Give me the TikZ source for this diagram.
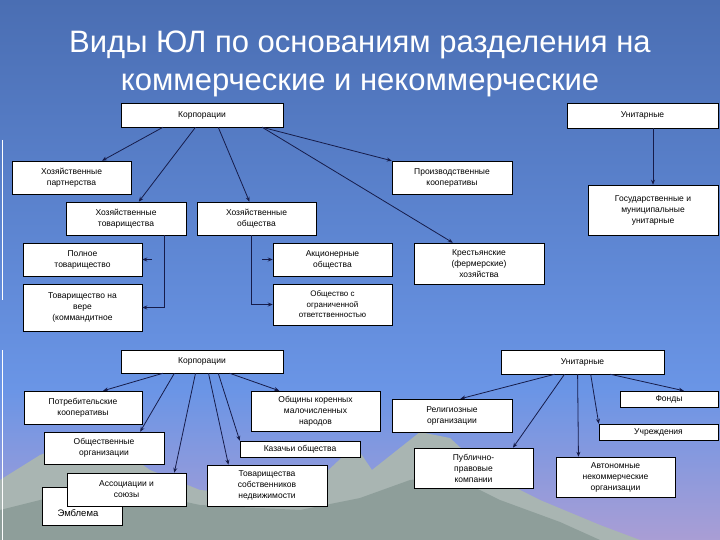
\documentclass[tikz,border=0pt]{standalone}
\usepackage{fontspec}
\setmainfont{Liberation Sans}
\usetikzlibrary{calc,arrows.meta}
\definecolor{bgA}{HTML}{34538F}
\definecolor{bgB}{HTML}{6A95E6}
\definecolor{bgC}{HTML}{C9A2CC}
\definecolor{bgD}{HTML}{EBC7B4}
\definecolor{bgE}{HTML}{E8C6B0}
\definecolor{mnt}{HTML}{8E9E9A}
\definecolor{mnt2}{HTML}{A9B5B2}
\definecolor{lnk}{HTML}{161C4A}
\pgfdeclareverticalshading{bg}{100bp}{color(0bp)=(bgE); color(8bp)=(bgD); color(18bp)=(bgC); color(39bp)=(bgB); color(100bp)=(bgA)}
\begin{document}
\begin{tikzpicture}[x=1pt,y=-1pt,
  box/.style={draw=black,line width=0.5pt,fill=white,inner sep=1pt,align=center,font=\fontsize{8.5}{11}\selectfont,anchor=center},
  ar/.style={draw=lnk,line width=0.8pt,-{Stealth[length=5pt,width=4pt]}},
  ln/.style={draw=lnk,line width=0.8pt}]
\useasboundingbox (0,0) rectangle (720,540);
\fill[shading=bg] (0,0) rectangle (720,540);
% mountains
\fill[mnt2] (0,540) -- (0,480) -- (40,455) -- (80,440) -- (115,445) -- (150,470) -- (200,490) -- (260,495) -- (320,478) -- (355,445) -- (372,470) -- (420,432) -- (450,438) -- (490,475) -- (540,500) -- (600,525) -- (640,540) -- cycle;
\fill[mnt] (0,540) -- (0,510) -- (60,495) -- (130,490) -- (200,505) -- (300,510) -- (360,498) -- (410,480) -- (450,475) -- (500,500) -- (560,522) -- (600,540) -- cycle;
\draw[white,line width=1pt] (2,140) -- (2,300);
\draw[white,line width=1pt] (2,350) -- (2,540);
% title
\node[white,font=\fontsize{31}{38}\selectfont,align=center] (title) at (360,64) {Виды ЮЛ по основаниям разделения на\\коммерческие и некоммерческие};
% top section
\node[box,minimum width=162,minimum height=24] (K1) at (202,115) {Корпорации};
\node[box,minimum width=151,minimum height=25] (U1) at (642.5,115.5) {Унитарные};
\node[box,minimum width=119,minimum height=33] (hp) at (71.5,177.5) {Хозяйственные\\партнерства};
\node[box,minimum width=120,minimum height=33] (pk) at (452,177.5) {Производственные\\кооперативы};
\node[box,minimum width=120,minimum height=33] (ht) at (126,218.5) {Хозяйственные\\товарищества};
\node[box,minimum width=119,minimum height=33] (ho) at (256.5,218.5) {Хозяйственные\\общества};
\node[box,minimum width=119,minimum height=33] (pt) at (82.5,259.5) {Полное\\товарищество};
\node[box,minimum width=119,minimum height=33] (ao) at (332.5,259.5) {Акционерные\\общества};
\node[box,minimum width=130,minimum height=41] (kfh) at (479,263.5) {Крестьянские\\(фермерские)\\хозяйства};
\node[box,minimum width=130,minimum height=50] (gmu) at (653,210) {Государственные и\\муниципальные\\унитарные};
\node[box,minimum width=119,minimum height=47] (tv) at (82.5,307.5) {Товарищество на\\вере\\(коммандитное};
\node[box,minimum width=119,minimum height=41,font=\fontsize{8}{10.5}\selectfont] (ooo) at (332.5,304.5) {Общество с\\ограниченной\\ответственностью};
\draw[ar] ($(K1.south west)!0.26!(K1.south east)$) -- (hp);
\draw[ar] ($(K1.south west)!0.46!(K1.south east)$) -- (ht);
\draw[ar] ($(K1.south west)!0.60!(K1.south east)$) -- (ho);
\draw[ar] ($(K1.south west)!0.87!(K1.south east)$) -- (pk.north west);
\draw[ar] ($(K1.south west)!0.87!(K1.south east)$) -- ($(kfh.north west)!0.3!(kfh.north east)$);
\draw[ar] (U1.south -| gmu.north) -- (gmu.north);
\draw[ar] ($(ht.south west)!0.82!(ht.south east)$) |- (tv.east);
\draw[ar] ($(ho.south west)!0.46!(ho.south east)$) |- (ooo.west);
\coordinate (pa) at (152,259.5);
\coordinate (pb) at (262,259.5);
\draw[ar] (pa) -- (pt.east);
\draw[ar] (pb) -- (ao.west);
% bottom section
\node[box,minimum width=162,minimum height=23] (K2) at (202,361.5) {Корпорации};
\node[box,minimum width=163,minimum height=24] (U2) at (582.5,362) {Унитарные};
\node[box,minimum width=118,minimum height=33] (pot) at (83,407.5) {Потребительские\\кооперативы};
\node[box,minimum width=120,minimum height=32] (oo) at (104,448) {Общественные\\организации};
\node[box,minimum width=80,minimum height=38] (emb) at (82,506) {};
\node[font=\fontsize{9.5}{11}\selectfont,anchor=west] (embt) at (54,513) {Эмблема};
\node[box,minimum width=119,minimum height=33] (ass) at (126.5,489.5) {Ассоциации и\\союзы};
\node[box,minimum width=129,minimum height=40] (ob) at (315.5,411) {Общины коренных\\малочисленных\\народов};
\node[box,minimum width=120,minimum height=16] (kaz) at (300,449) {Казачьи общества};
\node[box,minimum width=120,minimum height=41] (tsn) at (267,485.5) {Товарищества\\собственников\\недвижимости};
\node[box,minimum width=120,minimum height=33] (rel) at (452,415.5) {Религиозные\\организации};
\node[box,minimum width=119,minimum height=40] (pub) at (473.5,468) {Публично-\\правовые\\компании};
\node[box,minimum width=98,minimum height=16] (fond) at (669,399) {Фонды};
\node[box,minimum width=119,minimum height=16] (uch) at (658.5,432) {Учреждения};
\node[box,minimum width=119,minimum height=40] (ano) at (615.5,477) {Автономные\\некоммерческие\\организации};
\draw[ar] ($(K2.south west)!0.26!(K2.south east)$) -- ($(pot.north west)!0.67!(pot.north east)$);
\draw[ar] ($(K2.south west)!0.33!(K2.south east)$) -- ($(oo.north west)!0.8!(oo.north east)$);
\draw[ar] ($(K2.south west)!0.46!(K2.south east)$) -- ($(ass.north west)!0.9!(ass.north east)$);
\draw[ar] ($(K2.south west)!0.54!(K2.south east)$) -- ($(tsn.north west)!0.18!(tsn.north east)$);
\draw[ar] ($(K2.south west)!0.60!(K2.south east)$) -- (kaz.north west);
\draw[ar] ($(K2.south west)!0.67!(K2.south east)$) -- ($(ob.north west)!0.22!(ob.north east)$);
\draw[ar] ($(U2.south west)!0.33!(U2.south east)$) -- ($(rel.north west)!0.57!(rel.north east)$);
\draw[ar] ($(U2.south west)!0.39!(U2.south east)$) -- ($(pub.north west)!0.83!(pub.north east)$);
\draw[ar] ($(U2.south west)!0.47!(U2.south east)$) -- ($(ano.north west)!0.19!(ano.north east)$);
\draw[ar] ($(U2.south west)!0.55!(U2.south east)$) -- (uch.north west);
\draw[ar] ($(U2.south west)!0.67!(U2.south east)$) -- ($(fond.north west)!0.65!(fond.north east)$);
\end{tikzpicture}
\end{document}
